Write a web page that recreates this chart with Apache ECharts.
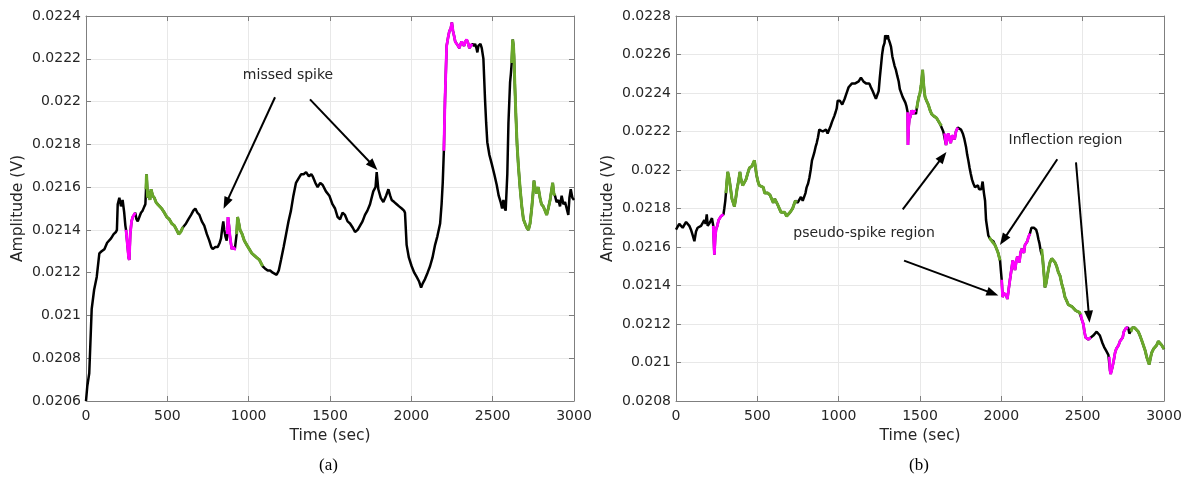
<!DOCTYPE html>
<html>
<head>
<meta charset="utf-8">
<script src="https://cdn.jsdelivr.net/npm/echarts@6/dist/echarts.min.js"></script>
<style>
  html, body { margin: 0; padding: 0; background: #fff; }
  #chart { width: 1192px; height: 481px; }
</style>
</head>
<body>
<div id="chart"></div>
<script>
// ---- Panel (a): amplitude trace ----
const timeA = [0,8,20,35,50,66,82,96,113,130,154,170,184,190,195,205,215,225,235,242,246,256,262,266,272,280,287,295,303,310,318,328,338,348,359,365,369,372,376,379,386,393,400,410,420,430,440,451,465,482,497,512,527,543,557,570,582,594,600,615,630,646,660,672,685,697,712,727,743,758,770,779,795,810,822,830,838,844,850,857,865,868,873,879,885,896,905,915,922,926,932,940,947,960,973,988,1004,1020,1035,1050,1066,1086,1100,1117,1132,1148,1160,1172,1185,1199,1215,1230,1245,1260,1275,1291,1306,1322,1338,1353,1370,1385,1394,1410,1424,1440,1455,1475,1496,1515,1531,1547,1562,1577,1592,1608,1623,1640,1654,1670,1685,1700,1715,1730,1746,1766,1780,1787,1797,1812,1828,1845,1859,1870,1879,1895,1910,1925,1941,1955,1961,1971,1985,2002,2018,2033,2047,2060,2070,2084,2100,2115,2130,2146,2160,2177,2186,2193,2200,2207,2217,2226,2234,2242,2249,2256,2262,2270,2279,2288,2295,2303,2310,2317,2324,2332,2340,2350,2357,2365,2375,2385,2392,2400,2406,2412,2418,2425,2433,2443,2453,2460,2467,2480,2494,2510,2525,2537,2549,2558,2566,2575,2580,2590,2597,2607,2612,2617,2623,2628,2631,2637,2643,2650,2658,2668,2679,2689,2699,2710,2720,2730,2740,2747,2754,2762,2771,2780,2791,2800,2811,2822,2832,2842,2853,2861,2869,2876,2883,2893,2904,2914,2924,2935,2945,2955,2965,2972,2980,2990,3000];
const ampA = [0.02060,0.02067,0.02073,0.02103,0.02112,0.02118,0.02129,0.02130,0.02131,0.02134,0.02136,0.02138,0.02139,0.02140,0.02152,0.02155,0.02151,0.02154,0.02148,0.02142,0.02140,0.02132,0.02127,0.02126,0.02138,0.02144,0.02146,0.02147,0.02148,0.02145,0.02144,0.02146,0.02148,0.02149,0.02151,0.02152,0.02159,0.02166,0.02160,0.02155,0.02158,0.02154,0.02159,0.02156,0.02155,0.02153,0.02152,0.02152,0.02150,0.02148,0.02146,0.02145,0.02143,0.02142,0.02140,0.02138,0.02139,0.02141,0.02141,0.02143,0.02145,0.02147,0.02149,0.02150,0.02148,0.02147,0.02144,0.02142,0.02138,0.02135,0.02132,0.02131,0.02132,0.02132,0.02134,0.02136,0.02141,0.02144,0.02140,0.02137,0.02135,0.02138,0.02146,0.02142,0.02137,0.02131,0.02132,0.02131,0.02131,0.02138,0.02146,0.02143,0.02140,0.02138,0.02135,0.02133,0.02131,0.02129,0.02128,0.02127,0.02126,0.02123,0.02122,0.02121,0.02121,0.02120,0.02120,0.02119,0.02121,0.02126,0.02132,0.02138,0.02144,0.02149,0.02156,0.02162,0.02164,0.02166,0.02166,0.02167,0.02165,0.02166,0.02165,0.02162,0.02160,0.02162,0.02161,0.02158,0.02156,0.02152,0.02150,0.02146,0.02145,0.02148,0.02147,0.02144,0.02143,0.02141,0.02139,0.02140,0.02142,0.02144,0.02147,0.02149,0.02152,0.02158,0.02160,0.02167,0.02159,0.02155,0.02153,0.02156,0.02159,0.02156,0.02154,0.02153,0.02152,0.02151,0.02150,0.02149,0.02148,0.02133,0.02127,0.02123,0.02120,0.02118,0.02116,0.02113,0.02115,0.02117,0.02120,0.02123,0.02127,0.02133,0.02137,0.02143,0.02152,0.02162,0.02177,0.02201,0.02226,0.02230,0.02233,0.02234,0.02237,0.02233,0.02231,0.02228,0.02228,0.02226,0.02225,0.02227,0.02228,0.02227,0.02226,0.02228,0.02229,0.02227,0.02225,0.02226,0.02227,0.02226,0.02227,0.02225,0.02223,0.02226,0.02226,0.02227,0.02225,0.02220,0.02201,0.02190,0.02181,0.02175,0.02171,0.02166,0.02161,0.02156,0.02153,0.02150,0.02154,0.02150,0.02149,0.02166,0.02190,0.02209,0.02213,0.02218,0.02229,0.02226,0.02221,0.02206,0.02193,0.02180,0.02170,0.02160,0.02151,0.02145,0.02143,0.02141,0.02140,0.02143,0.02150,0.02156,0.02163,0.02159,0.02157,0.02160,0.02155,0.02152,0.02151,0.02149,0.02147,0.02150,0.02154,0.02158,0.02162,0.02157,0.02156,0.02153,0.02154,0.02151,0.02156,0.02152,0.02153,0.02150,0.02147,0.02155,0.02159,0.02155,0.02154];
// highlighted stretches of panel (a): [start, end] in seconds
const spikeSegA = [[246, 303], [868, 922], [2200, 2375]];
const slopeSegA = [[369, 600], [926, 1086], [2617, 2883]];

// ---- Panel (b): amplitude trace ----
const timeB = [0,10,20,31,41,51,62,72,82,92,103,113,123,133,144,154,164,174,182,189,195,201,210,221,229,232,236,241,246,254,262,270,277,287,292,297,303,307,312,318,323,328,336,344,352,359,367,375,384,393,400,410,420,430,440,451,459,467,475,482,489,496,504,512,524,537,545,553,565,578,588,598,607,615,625,635,646,656,668,680,690,701,710,717,725,734,741,748,758,768,779,789,796,803,812,820,828,836,843,850,858,865,873,881,891,902,912,922,932,943,951,959,966,973,981,988,994,1000,1007,1014,1022,1029,1037,1045,1053,1061,1071,1082,1092,1102,1112,1123,1130,1137,1145,1152,1160,1168,1178,1188,1198,1209,1219,1229,1237,1246,1253,1260,1267,1274,1282,1286,1291,1297,1302,1307,1315,1322,1330,1336,1344,1352,1360,1369,1376,1383,1388,1393,1400,1410,1417,1424,1426,1430,1434,1442,1447,1451,1458,1465,1470,1475,1480,1486,1493,1500,1507,1512,1516,1521,1526,1531,1540,1551,1562,1572,1585,1602,1612,1623,1632,1643,1651,1660,1667,1674,1681,1689,1697,1705,1713,1721,1732,1742,1752,1763,1773,1783,1790,1797,1805,1812,1820,1828,1838,1848,1856,1863,1869,1877,1885,1893,1900,1906,1913,1920,1926,1932,1942,1951,1961,1971,1980,1986,1992,1997,2002,2008,2015,2023,2030,2037,2045,2053,2060,2070,2077,2084,2091,2098,2105,2111,2118,2125,2132,2139,2145,2152,2160,2166,2176,2185,2193,2200,2207,2214,2221,2228,2234,2242,2248,2253,2258,2263,2268,2275,2283,2291,2299,2310,2320,2330,2340,2350,2361,2371,2381,2391,2402,2412,2422,2435,2447,2457,2467,2480,2488,2496,2504,2511,2518,2527,2535,2545,2550,2555,2565,2576,2586,2596,2606,2617,2622,2627,2632,2637,2645,2651,2658,2664,2668,2672,2678,2684,2691,2699,2706,2713,2721,2729,2737,2746,2753,2760,2767,2774,2780,2787,2797,2804,2811,2820,2832,2842,2852,2865,2877,2885,2893,2901,2909,2916,2924,2935,2945,2955,2965,2975,2986,2993,3000];
const ampB = [0.02169,0.02169,0.02172,0.02172,0.02170,0.02171,0.02173,0.02174,0.02171,0.02169,0.02166,0.02163,0.02168,0.02170,0.02169,0.02171,0.02170,0.02174,0.02172,0.02177,0.02171,0.02170,0.02173,0.02175,0.02171,0.02164,0.02156,0.02165,0.02169,0.02171,0.02174,0.02174,0.02176,0.02177,0.02177,0.02180,0.02184,0.02188,0.02193,0.02199,0.02197,0.02195,0.02190,0.02185,0.02183,0.02181,0.02185,0.02190,0.02194,0.02199,0.02195,0.02192,0.02193,0.02195,0.02198,0.02201,0.02200,0.02202,0.02203,0.02205,0.02201,0.02197,0.02194,0.02192,0.02191,0.02191,0.02188,0.02187,0.02188,0.02187,0.02185,0.02183,0.02185,0.02185,0.02182,0.02180,0.02178,0.02177,0.02178,0.02176,0.02177,0.02178,0.02178,0.02180,0.02182,0.02184,0.02183,0.02183,0.02184,0.02186,0.02184,0.02185,0.02188,0.02191,0.02193,0.02196,0.02200,0.02205,0.02207,0.02209,0.02212,0.02214,0.02217,0.02221,0.02220,0.02220,0.02221,0.02221,0.02219,0.02220,0.02223,0.02225,0.02226,0.02228,0.02230,0.02232,0.02236,0.02237,0.02236,0.02236,0.02234,0.02233,0.02237,0.02239,0.02241,0.02243,0.02244,0.02245,0.02244,0.02245,0.02246,0.02246,0.02247,0.02248,0.02247,0.02246,0.02246,0.02245,0.02246,0.02245,0.02243,0.02241,0.02239,0.02237,0.02238,0.02241,0.02248,0.02254,0.02260,0.02264,0.02266,0.02270,0.02271,0.02268,0.02270,0.02268,0.02266,0.02264,0.02259,0.02258,0.02254,0.02252,0.02249,0.02246,0.02242,0.02241,0.02242,0.02238,0.02238,0.02235,0.02233,0.02230,0.02213,0.02222,0.02226,0.02228,0.02231,0.02230,0.02229,0.02231,0.02230,0.02229,0.02232,0.02235,0.02238,0.02240,0.02244,0.02248,0.02252,0.02246,0.02241,0.02238,0.02236,0.02234,0.02231,0.02229,0.02228,0.02227,0.02226,0.02224,0.02223,0.02220,0.02219,0.02213,0.02217,0.02219,0.02216,0.02214,0.02218,0.02218,0.02216,0.02220,0.02222,0.02223,0.02221,0.02219,0.02216,0.02212,0.02208,0.02205,0.02201,0.02198,0.02195,0.02193,0.02191,0.02190,0.02192,0.02190,0.02191,0.02190,0.02194,0.02188,0.02184,0.02174,0.02170,0.02166,0.02165,0.02164,0.02163,0.02163,0.02161,0.02159,0.02157,0.02155,0.02153,0.02148,0.02143,0.02134,0.02136,0.02136,0.02135,0.02133,0.02138,0.02143,0.02147,0.02153,0.02151,0.02148,0.02152,0.02155,0.02154,0.02152,0.02157,0.02159,0.02159,0.02157,0.02161,0.02162,0.02163,0.02165,0.02167,0.02170,0.02171,0.02170,0.02170,0.02169,0.02167,0.02164,0.02162,0.02158,0.02159,0.02155,0.02150,0.02145,0.02139,0.02141,0.02145,0.02149,0.02152,0.02154,0.02154,0.02152,0.02150,0.02147,0.02145,0.02141,0.02138,0.02134,0.02132,0.02130,0.02129,0.02129,0.02128,0.02127,0.02126,0.02126,0.02125,0.02122,0.02120,0.02116,0.02113,0.02112,0.02112,0.02112,0.02113,0.02113,0.02114,0.02114,0.02116,0.02115,0.02114,0.02113,0.02110,0.02110,0.02108,0.02107,0.02106,0.02105,0.02104,0.02103,0.02096,0.02094,0.02095,0.02098,0.02101,0.02105,0.02107,0.02108,0.02109,0.02111,0.02112,0.02113,0.02116,0.02116,0.02118,0.02119,0.02118,0.02115,0.02116,0.02118,0.02117,0.02118,0.02118,0.02116,0.02114,0.02111,0.02108,0.02106,0.02103,0.02101,0.02099,0.02102,0.02105,0.02107,0.02108,0.02109,0.02111,0.02110,0.02109,0.02108,0.02107];
const spikeSegB = [[229, 292], [1424, 1470], [1651, 1732], [2002, 2176], [2488, 2550], [2664, 2780]];
const slopeSegB = [[307, 741], [1480, 1632], [1926, 1992], [2248, 2488], [2797, 3000]];

// axis ranges / ticks
const timeTicks = { min: 0, max: 3000, interval: 500 };
const ampRangeA = { min: 0.0206, max: 0.0224, interval: 0.0002 };
const ampRangeB = { min: 0.0208, max: 0.0228, interval: 0.0002 };

// annotation arrows: [[t0, v0], [t1, v1]] (tail -> head)
const arrowsA = [
  [[1162, 0.02202], [861, 0.021524]],
  [[1377, 0.02201], [1766, 0.02170]]
];
const notesA = [{ text: 'missed spike', at: [1242, 0.022124] }];
const arrowsB = [
  [[1394, 0.021796], [1640, 0.022069]],
  [[1402, 0.021529], [1947, 0.021359]],
  [[2344, 0.022056], [2012, 0.021636]],
  [[2459, 0.022040], [2539, 0.021238]]
];
const notesB = [
  { text: 'pseudo-spike region', at: [1156, 0.021673] },
  { text: 'Inflection region', at: [2394, 0.022152] }
];

const BLACK = '#000000';
const MAGENTA = '#ff00ff';
const GREEN = '#6aa82b';
const FONT = 'DejaVu Sans';
const TXT = '#262626';
const AXIS = '#7f7f7f';

function pairs(ts, vs) { return ts.map((t, i) => [t, vs[i]]); }
function slice(ts, vs, a, b) {
  const out = [];
  ts.forEach((t, i) => { if (t >= a && t <= b) out.push([t, vs[i]]); });
  return out;
}
const fmtAmp = v => String(parseFloat(v.toFixed(4)));
const fmtTime = v => String(Math.round(v));

function xAxes(gridIndex) {
  return [
    {
      type: 'value', gridIndex, position: 'bottom', ...timeTicks,
      name: 'Time (sec)', nameLocation: 'middle', nameGap: 27,
      nameTextStyle: { fontFamily: FONT, fontSize: 15.5, color: TXT },
      axisLine: { show: true, lineStyle: { color: AXIS, width: 1 } },
      axisTick: { show: true, inside: true, length: 5, lineStyle: { color: AXIS } },
      axisLabel: { fontFamily: FONT, fontSize: 14, color: TXT, margin: 8, formatter: fmtTime },
      splitLine: { show: true, lineStyle: { color: '#e8e8e8', width: 1 } }
    },
    {
      type: 'value', gridIndex, position: 'top', ...timeTicks,
      axisLine: { show: true, onZero: false, lineStyle: { color: AXIS, width: 1 } },
      axisTick: { show: true, inside: true, length: 5, lineStyle: { color: AXIS } },
      axisLabel: { show: false }, splitLine: { show: false }
    }
  ];
}
function yAxes(gridIndex, range) {
  return [
    {
      type: 'value', gridIndex, position: 'left', ...range,
      name: 'Amplitude (V)', nameLocation: 'middle', nameGap: 60, nameRotate: 90,
      nameTextStyle: { fontFamily: FONT, fontSize: 15.5, color: TXT },
      axisLine: { show: true, onZero: false, lineStyle: { color: AXIS, width: 1 } },
      axisTick: { show: true, inside: true, length: 5, lineStyle: { color: AXIS } },
      axisLabel: { fontFamily: FONT, fontSize: 14, color: TXT, margin: 5, formatter: fmtAmp },
      splitLine: { show: true, lineStyle: { color: '#e8e8e8', width: 1 } }
    },
    {
      type: 'value', gridIndex, position: 'right', ...range,
      axisLine: { show: true, onZero: false, lineStyle: { color: AXIS, width: 1 } },
      axisTick: { show: true, inside: true, length: 5, lineStyle: { color: AXIS } },
      axisLabel: { show: false }, splitLine: { show: false }
    }
  ];
}

function panelSeries(ts, vs, spikes, slopes, arrows, notes, xi, yi) {
  const list = [];
  list.push({
    type: 'line', xAxisIndex: xi, yAxisIndex: yi, data: pairs(ts, vs),
    showSymbol: false, silent: true, z: 2,
    lineStyle: { color: BLACK, width: 2.5 }
  });
  spikes.forEach(([a, b]) => list.push({
    type: 'line', xAxisIndex: xi, yAxisIndex: yi, data: slice(ts, vs, a, b),
    showSymbol: false, silent: true, z: 3,
    lineStyle: { color: MAGENTA, width: 2.8 }
  }));
  slopes.forEach(([a, b]) => list.push({
    type: 'line', xAxisIndex: xi, yAxisIndex: yi, data: slice(ts, vs, a, b),
    showSymbol: false, silent: true, z: 3,
    lineStyle: { color: GREEN, width: 3 }
  }));
  // annotation arrows and their captions
  list.push({
    type: 'line', xAxisIndex: xi, yAxisIndex: yi, data: [], silent: true, z: 5,
    markLine: {
      silent: true, animation: false,
      symbol: ['none', 'triangle'], symbolSize: [9, 12],
      label: { show: false },
      lineStyle: { color: BLACK, width: 2, type: 'solid' },
      itemStyle: { color: BLACK },
      emphasis: { disabled: true },
      data: arrows.map(([p, q]) => [{ coord: p }, { coord: q }])
    },
    markPoint: {
      silent: true, animation: false, symbol: 'circle', symbolSize: 0,
      label: { show: true, position: 'inside', fontFamily: FONT, fontSize: 14, color: TXT,
               formatter: p => p.name },
      data: notes.map(n => ({ name: n.text, coord: n.at }))
    }
  });
  return list;
}

const chart = echarts.init(document.getElementById('chart'), null, { renderer: 'canvas' });
chart.setOption({
  animation: false,
  backgroundColor: '#ffffff',
  grid: [
    { left: 86, top: 16, width: 488, height: 385, containLabel: false },
    { left: 676, top: 16, width: 488, height: 385, containLabel: false }
  ],
  xAxis: [...xAxes(0), ...xAxes(1)],
  yAxis: [...yAxes(0, ampRangeA), ...yAxes(1, ampRangeB)],
  series: [
    ...panelSeries(timeA, ampA, spikeSegA, slopeSegA, arrowsA, notesA, 0, 0),
    ...panelSeries(timeB, ampB, spikeSegB, slopeSegB, arrowsB, notesB, 2, 2)
  ],
  graphic: [
    { type: 'text', left: 319, top: 457, silent: true,
      style: { text: '(a)', font: '17px "Liberation Serif", serif', fill: '#000' } },
    { type: 'text', left: 909, top: 457, silent: true,
      style: { text: '(b)', font: '17px "Liberation Serif", serif', fill: '#000' } }
  ]
});
</script>
</body>
</html>
